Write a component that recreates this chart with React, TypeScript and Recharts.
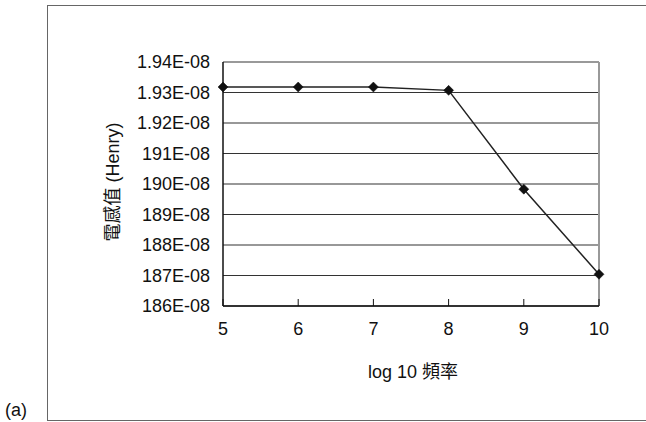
import React from "react";
import { LineChart, Line, XAxis, YAxis, CartesianGrid, ReferenceLine } from "recharts";

const freqLog = [5, 6, 7, 8, 9, 10];
const inductance = [1.9318, 1.9318, 1.9318, 1.9307, 1.8983, 1.8704];
const yTicks = [1.86, 1.87, 1.88, 1.89, 1.9, 1.91, 1.92, 1.93, 1.94];
const yTickLabels = ["186E-08", "187E-08", "188E-08", "189E-08", "190E-08", "191E-08", "1.92E-08", "1.93E-08", "1.94E-08"];
const xTicks = [5, 6, 7, 8, 9, 10];

const data = freqLog.map((f, i) => ({ f, v: inductance[i] }));

const FONT = "'Liberation Sans', Arial, Helvetica, 'Noto Sans CJK TC', sans-serif";
const FS = 18;

const Diamond = (props: any) => {
  const { cx, cy } = props;
  if (cx == null || cy == null) return null;
  const s = 5;
  return (
    <path
      d={`M${cx},${cy - s}L${cx + s},${cy}L${cx},${cy + s}L${cx - s},${cy}Z`}
      fill="#111"
      stroke="#111"
      strokeWidth={0.5}
    />
  );
};

const XTick = (props: any) => {
  const { x, y, payload } = props;
  return (
    <g>
      <line x1={x} y1={y} x2={x} y2={y - 7} stroke="#111" strokeWidth={1} />
      <text x={x} y={y + 29} textAnchor="middle" fontSize={FS} fill="#111" fontFamily={FONT}>
        {payload.value}
      </text>
    </g>
  );
};

export default function App() {
  return (
    <div style={{ position: "absolute", left: 0, top: 0, width: 646, height: 422, background: "#fff", overflow: "hidden" }}>
      <div
        style={{
          position: "absolute",
          left: 47,
          top: 5,
          width: 620,
          height: 414,
          border: "1.5px solid #666",
        }}
      />
      <div
        style={{
          position: "absolute",
          left: 5,
          top: 400,
          fontSize: FS,
          fontFamily: FONT,
          color: "#111",
          lineHeight: "20px",
        }}
      >
        (a)
      </div>
      <div style={{ position: "absolute", left: 0, top: 0 }}>
        <LineChart width={646} height={422} data={data} margin={{ top: 62, right: 47, bottom: 86, left: 0 }}>
          <CartesianGrid vertical={false} stroke="#333" strokeWidth={1.2} />
          <XAxis
            dataKey="f"
            type="number"
            domain={[5, 10]}
            ticks={xTicks}
            axisLine={{ stroke: "#111", strokeWidth: 1.5 }}
            tickLine={false}
            tickSize={0}
            tickMargin={0}
            height={30}
            tick={<XTick />}
            interval={0}
          />
          <YAxis
            type="number"
            domain={[1.86, 1.94]}
            ticks={yTicks}
            width={223}
            axisLine={{ stroke: "#111", strokeWidth: 1.5 }}
            tickLine={false}
            tickSize={0}
            tickMargin={13}
            interval={0}
            tick={{ fontSize: FS, fill: "#111", fontFamily: FONT }}
            tickFormatter={(v: number, i: number) => yTickLabels[i]}
          />
          <ReferenceLine y={1.94} stroke="#999" strokeWidth={2} />
          <ReferenceLine x={10} stroke="#999" strokeWidth={2} />
          <Line
            dataKey="v"
            stroke="#222"
            strokeWidth={1.5}
            dot={<Diamond />}
            isAnimationActive={false}
          />
          <text x={413} y={378} textAnchor="middle" fontSize={FS} fill="#111" fontFamily={FONT}>
            log 10 頻率
          </text>
          <text
            x={119}
            y={182}
            textAnchor="middle"
            fontSize={FS}
            fill="#111"
            fontFamily={FONT}
            transform="rotate(-90 119 182)"
          >
            電感值 (Henry)
          </text>
        </LineChart>
      </div>
    </div>
  );
}
